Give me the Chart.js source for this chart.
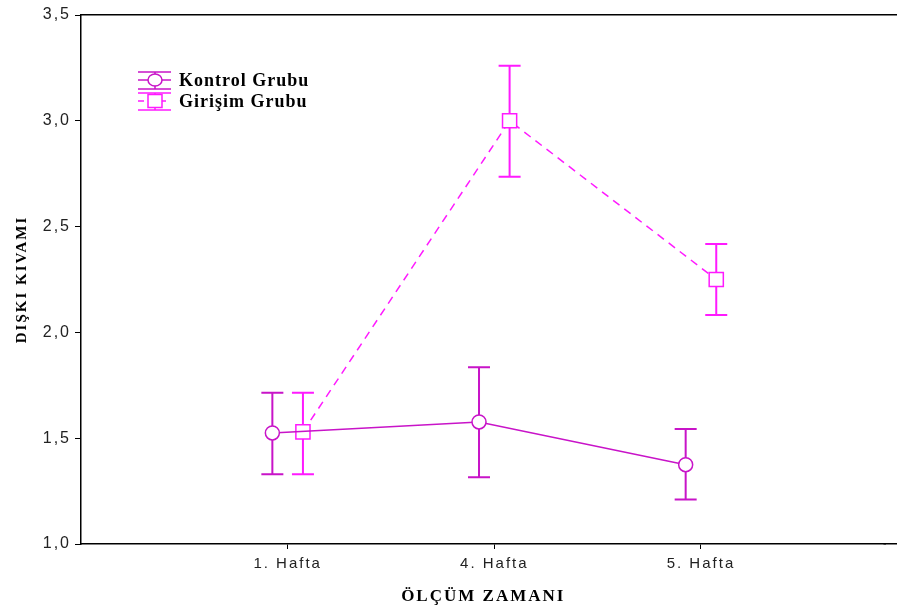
<!DOCTYPE html>
<html>
<head>
<meta charset="utf-8">
<script src="https://cdn.jsdelivr.net/npm/chart.js@4.4.1/dist/chart.umd.min.js"></script>
<style>
  html, body { margin: 0; padding: 0; background: #fff; }
  #wrap { width: 897px; height: 612px; }
</style>
</head>
<body>
<div id="wrap"><canvas id="c" width="897" height="612"></canvas></div>
<script>
// Measurement times
const categories = ['1. Hafta', '4. Hafta', '5. Hafta'];

// Kontrol Grubu: mean and interval bounds
const kontrolMean = [1.525, 1.577, 1.375];
const kontrolLow  = [1.330, 1.315, 1.210];
const kontrolHigh = [1.715, 1.835, 1.543];

// Girişim Grubu: mean and interval bounds
const girisimMean = [1.530, 3.000, 2.250];
const girisimLow  = [1.330, 2.735, 2.082];
const girisimHigh = [1.715, 3.260, 2.418];

const yTicks = [1.0, 1.5, 2.0, 2.5, 3.0, 3.5];

const KONTROL_COLOR = '#c814c8';
const GIRISIM_COLOR = '#ff1aff';
const DODGE = 0.074;
const AXIS_WIDTH = 1.5;

function toPoints(means, shift) {
  return means.map((v, i) => ({ x: i + 1 + shift, y: v }));
}

// Same pixel snapping the library applies to axis borders
function snap(pixel, width) {
  const half = width / 2;
  return Math.round(pixel - half) + half;
}

// Wide text tracking for all axis text
const tracking = {
  id: 'tracking',
  beforeLayout(chart) { chart.ctx.letterSpacing = '2px'; },
  beforeDraw(chart) { chart.ctx.letterSpacing = '2px'; }
};

// Vertical interval bars with caps, drawn under the markers
const errorBars = {
  id: 'errorBars',
  beforeDatasetsDraw(chart) {
    const ctx = chart.ctx;
    const ys = chart.scales.y;
    chart.data.datasets.forEach((ds, i) => {
      const meta = chart.getDatasetMeta(i);
      ctx.save();
      ctx.strokeStyle = ds.borderColor;
      ctx.lineWidth = 2;
      meta.data.forEach((pt, j) => {
        const yl = ys.getPixelForValue(ds.low[j]);
        const yh = ys.getPixelForValue(ds.high[j]);
        ctx.beginPath();
        ctx.moveTo(pt.x, yl); ctx.lineTo(pt.x, yh);
        ctx.moveTo(pt.x - 11, yl); ctx.lineTo(pt.x + 11, yl);
        ctx.moveTo(pt.x - 11, yh); ctx.lineTo(pt.x + 11, yh);
        ctx.stroke();
      });
      ctx.restore();
    });
  }
};

// Frame lines along the top of the plot and out to the right edge of the canvas
const frame = {
  id: 'frame',
  afterDraw(chart) {
    const a = chart.chartArea;
    const ctx = chart.ctx;
    const left = snap(chart.scales.y.right, AXIS_WIDTH);
    const top = snap(a.top, AXIS_WIDTH);
    const bottom = snap(chart.scales.x.top, AXIS_WIDTH);
    ctx.save();
    ctx.strokeStyle = '#000';
    ctx.lineWidth = AXIS_WIDTH;
    ctx.beginPath();
    ctx.moveTo(left - AXIS_WIDTH / 2, top);
    ctx.lineTo(chart.width, top);
    ctx.moveTo(a.right - 2, bottom);
    ctx.lineTo(chart.width, bottom);
    ctx.stroke();
    ctx.restore();
  }
};

// Legend with interval-style symbols inside the plot
const insideLegend = {
  id: 'insideLegend',
  afterDraw(chart) {
    const ctx = chart.ctx;
    const rows = [
      { label: 'Kontrol Grubu', color: KONTROL_COLOR, dash: [], shape: 'circle', y: 80 },
      { label: 'Girişim Grubu', color: GIRISIM_COLOR, dash: [6, 5], shape: 'rect', y: 101 }
    ];
    const x0 = 138, x1 = 171, cx = 155;
    rows.forEach(r => {
      ctx.save();
      ctx.strokeStyle = r.color;
      ctx.lineWidth = 1.5;
      ctx.beginPath();
      ctx.moveTo(x0, r.y - 8); ctx.lineTo(x1, r.y - 8);
      ctx.moveTo(x0, r.y + 9); ctx.lineTo(x1, r.y + 9);
      ctx.moveTo(cx, r.y - 8); ctx.lineTo(cx, r.y + 9);
      ctx.stroke();
      ctx.setLineDash(r.dash);
      ctx.beginPath();
      ctx.moveTo(x0, r.y); ctx.lineTo(x1, r.y);
      ctx.stroke();
      ctx.setLineDash([]);
      ctx.fillStyle = '#fff';
      ctx.beginPath();
      if (r.shape === 'circle') {
        ctx.ellipse(cx, r.y, 7, 6, 0, 0, Math.PI * 2);
      } else {
        ctx.rect(cx - 7, r.y - 6.5, 14, 13);
      }
      ctx.fill();
      ctx.stroke();
      ctx.fillStyle = '#000';
      ctx.font = 'bold 18px "Liberation Serif"';
      ctx.textBaseline = 'middle';
      ctx.letterSpacing = '1px';
      ctx.fillText(r.label, 179, r.y + 1);
      ctx.restore();
    });
  }
};

new Chart(document.getElementById('c'), {
  type: 'line',
  data: {
    datasets: [
      {
        label: 'Kontrol Grubu',
        data: toPoints(kontrolMean, -DODGE),
        low: kontrolLow,
        high: kontrolHigh,
        borderColor: KONTROL_COLOR,
        borderWidth: 1.5,
        pointStyle: 'circle',
        pointRadius: 7,
        pointBorderWidth: 1.5,
        pointBackgroundColor: '#fff',
        pointBorderColor: KONTROL_COLOR,
        tension: 0
      },
      {
        label: 'Girişim Grubu',
        data: toPoints(girisimMean, DODGE),
        low: girisimLow,
        high: girisimHigh,
        borderColor: GIRISIM_COLOR,
        borderWidth: 1.5,
        borderDash: [8, 6],
        pointStyle: 'rect',
        pointRadius: 10,
        pointBorderWidth: 1.5,
        pointBackgroundColor: '#fff',
        pointBorderColor: GIRISIM_COLOR,
        tension: 0
      }
    ]
  },
  options: {
    responsive: false,
    animation: false,
    layout: { padding: { top: 15, right: 0, left: 0, bottom: 0 } },
    plugins: {
      legend: { display: false },
      tooltip: { enabled: false }
    },
    scales: {
      x: {
        type: 'linear',
        min: 0,
        max: 3.893,
        afterBuildTicks: (axis) => { axis.ticks = categories.map((_, i) => ({ value: i + 1 })); },
        afterFit: (scale) => { scale.height = 68; },
        ticks: {
          callback: (v) => categories[v - 1] || '',
          color: '#222',
          font: { family: '"Liberation Sans"', size: 15 },
          padding: 6,
          maxRotation: 0,
          autoSkip: false
        },
        grid: { display: true, drawOnChartArea: false, tickLength: 5, color: '#000', lineWidth: 1 },
        border: { color: '#000', width: AXIS_WIDTH },
        title: {
          display: true,
          text: 'ÖLÇÜM ZAMANI',
          color: '#000',
          font: { family: '"Liberation Serif"', size: 17, weight: 'bold' },
          padding: { top: 0, bottom: 5 }
        }
      },
      y: {
        min: 1,
        max: 3.5,
        afterBuildTicks: (axis) => { axis.ticks = yTicks.map(v => ({ value: v })); },
        afterFit: (scale) => { scale.width = 81; },
        ticks: {
          callback: (v) => v.toFixed(1).replace('.', ','),
          color: '#222',
          font: { family: '"Liberation Sans"', size: 16 },
          padding: 4
        },
        grid: { display: true, drawOnChartArea: false, tickLength: 6, color: '#000', lineWidth: 1 },
        border: { color: '#000', width: AXIS_WIDTH },
        title: {
          display: true,
          text: 'DIŞKI KIVAMI',
          color: '#000',
          font: { family: '"Liberation Serif"', size: 15, weight: 'bold' },
          padding: { top: 13, bottom: 0 }
        }
      }
    }
  },
  plugins: [tracking, errorBars, frame, insideLegend]
});
</script>
</body>
</html>
